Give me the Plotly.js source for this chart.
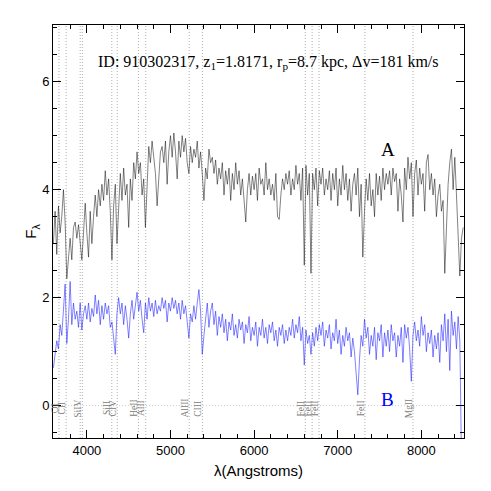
<!DOCTYPE html>
<html>
<head>
<meta charset="utf-8">
<script src="https://cdn.plot.ly/plotly-3.0.1.min.js"></script>
<style>html,body{margin:0;padding:0;background:#fff;}#chart{width:491px;height:491px;}</style>
</head>
<body>
<div id="chart"></div>
<script>
// Spectrum sampling: wavelengths from 3600 to 8500 Angstroms every 20 Angstroms
const lambdaStart = 3600;
const lambdaStep = 20;

// Spectrum A (upper, black)
const fluxA = [
  3.0, 3.6, 2.8, 3.7, 3.2,
  3.5, 4.0, 3.4, 2.35, 2.8,
  3.1, 2.7, 3.3, 3.4, 3.1,
  3.35, 3.0, 2.7, 3.2, 3.75,
  3.2, 2.75, 3.6, 3.0, 3.5,
  3.9, 3.5, 4.0, 3.7, 4.1,
  3.8, 4.35, 3.9, 4.2, 3.6,
  2.7, 3.7, 4.1, 3.0, 3.8,
  4.3, 3.8, 4.4, 3.9, 4.1,
  3.3, 4.2, 3.8, 4.5, 4.2,
  4.7, 4.3, 4.5, 3.9, 4.2,
  3.3, 4.0, 4.8, 4.5, 4.9,
  4.6, 4.3, 3.7, 4.2, 4.7,
  4.8, 4.5, 4.9, 4.1, 4.7,
  5.0, 4.6, 5.05, 4.7, 4.2,
  4.9, 4.6, 5.0, 4.7, 4.95,
  4.5, 4.3, 4.8, 4.5, 4.75,
  4.6, 4.9, 4.4, 4.7, 4.3,
  3.8, 4.4, 4.2, 4.75, 4.5,
  4.6, 4.3, 4.55, 4.1, 4.4,
  4.2, 4.5, 3.9, 4.35, 4.1,
  4.4, 3.8, 4.3, 4.0, 4.5,
  4.1, 4.35, 3.9, 4.2, 3.7,
  3.4, 4.0, 4.3, 3.9, 4.25,
  4.0, 4.3, 3.8, 4.4, 4.1,
  4.2, 3.9, 4.5, 4.0, 4.2,
  3.9, 4.1, 3.8, 4.3, 3.5,
  3.45, 3.9, 4.2, 4.0, 4.3,
  4.1, 4.35, 3.9, 4.2, 4.0,
  4.45, 4.1, 4.3, 3.8, 4.4,
  2.6, 4.45, 3.9, 4.3, 2.45,
  4.3, 4.0, 4.4, 3.7, 4.35,
  4.1, 4.4, 3.9, 4.2, 4.0,
  4.35, 3.8, 4.3, 4.0, 4.4,
  3.7, 4.2, 3.9, 4.45, 4.0,
  4.3, 3.8, 4.2, 3.6, 4.1,
  4.3, 3.9, 4.4, 3.5, 4.1,
  2.75, 3.6, 4.2, 3.8, 4.3,
  3.7, 4.0, 3.5, 4.3, 3.9,
  4.25, 3.8, 4.4, 4.0, 4.3,
  4.1, 4.35, 3.9, 4.4, 4.15,
  4.3, 3.6, 4.2, 3.9, 3.4,
  4.4, 4.0, 4.6, 4.2, 4.5,
  3.5, 4.3, 4.55, 3.9, 4.4,
  4.1, 4.3, 3.6, 4.5, 4.65,
  4.0, 4.3, 3.9, 4.2, 3.5,
  3.9, 4.1, 3.6, 3.8, 2.45,
  3.4, 4.1, 4.5, 4.75, 4.0,
  4.6, 3.9, 3.0, 2.4, 3.1,
  3.3
];

// Spectrum B (lower, blue)
const fluxB = [
  0.7, 1.0, 1.2, 1.05, 1.5,
  1.3, 1.8, 2.25, 1.15, 1.6,
  2.3, 1.5, 1.9, 1.6, 1.75,
  1.45, 1.9, 1.4, 1.7, 1.85,
  1.6, 1.9, 1.55, 1.8, 1.65,
  2.05, 1.7, 1.95, 1.5, 1.85,
  1.6, 1.9, 1.7, 1.85, 1.45,
  1.55, 1.25, 0.95, 1.7, 2.0,
  1.7, 1.9, 1.5, 1.85, 1.6,
  1.25, 1.7, 1.95, 1.6, 1.85,
  2.1, 1.75, 1.95, 1.6, 1.35,
  1.9, 1.6, 2.0, 1.75, 1.9,
  1.65, 1.95, 1.7, 1.85, 1.75,
  2.0, 1.8, 1.95, 1.55, 1.9,
  1.75, 2.0, 1.8, 1.95, 1.7,
  1.9, 1.6, 1.95, 1.7, 1.85,
  1.5, 1.25, 1.7, 1.55, 1.85,
  1.6, 1.9, 2.15, 1.75, 0.95,
  1.3, 1.65, 1.9, 1.45, 1.75,
  1.9, 1.5, 1.75, 1.3, 1.65,
  1.45, 1.7, 1.35, 1.6, 1.2,
  1.55, 1.4, 1.7, 1.3, 1.5,
  1.25, 1.6, 1.4, 1.55, 1.15,
  1.5, 1.35, 1.65, 1.2, 1.45,
  1.3, 1.55, 1.1, 1.45, 1.3,
  1.6, 1.25, 1.45, 1.15, 1.5,
  1.35, 1.55, 1.2, 1.4, 1.1,
  1.45, 1.3, 1.5, 1.15, 1.4,
  1.2, 1.45, 1.3, 1.6, 1.25,
  1.5, 1.35, 1.65, 1.2, 1.45,
  0.75, 1.4, 1.15, 1.3, 0.95,
  1.35, 1.1, 1.45, 1.2, 1.5,
  1.3, 1.55, 1.1, 1.4, 1.25,
  1.5, 1.05, 1.35, 1.2, 1.6,
  1.15, 1.4, 0.95, 1.3, 1.1,
  1.45, 1.2, 1.35, 0.9, 1.25,
  1.0, 0.6, 0.2, 0.85, 1.3,
  1.1, 1.6, 1.25, 1.45, 0.95,
  1.3, 1.1, 1.45, 0.85, 1.35,
  1.2, 1.5, 0.9, 1.35, 1.1,
  1.4, 1.0, 1.5, 1.2, 1.35,
  0.9, 1.3, 1.1, 1.45, 0.8,
  1.5, 1.25, 1.45, 1.05, 0.45,
  1.3, 1.55, 1.2, 1.4, 1.1,
  1.65, 1.3, 1.5, 1.0, 1.35,
  1.15, 1.4, 0.9, 1.3, 1.05,
  1.35, 0.8, 1.5, 1.2, 1.7,
  1.0, 1.6, 0.65, 1.75, 1.3,
  1.55, 1.05, 1.65, 1.2, -1.0,
  -1.0
];

// Absorption line wavelengths (observed frame) and labels
const lineWaves = [3666, 3752, 3920, 3946, 4298, 4363, 4617, 4704, 5224, 5382, 6612, 6694, 6776, 7325, 7900];
const lineLabels = ["OI", "CII", "", "SiIV", "SiII", "CIV", "HeII", "AlII", "AlIII", "CIII", "FeII", "FeII", "FeII", "FeII", "MgII"];

const infoText = "ID: 910302317, z<sub>1</sub>=1.8171, r<sub>p</sub>=8.7 kpc, \u0394v=181 km/s";

const lambda = fluxA.map((_, i) => lambdaStart + i * lambdaStep);

const traces = [
  {x: lambda, y: fluxA, type: 'scatter', mode: 'lines',
   line: {color: 'rgba(0,0,0,0.62)', width: 0.8}, hoverinfo: 'skip'},
  {x: lambda, y: fluxB, type: 'scatter', mode: 'lines',
   line: {color: 'rgba(30,30,255,0.7)', width: 0.8}, hoverinfo: 'skip'}
];

const shapes = lineWaves.map(w => ({
  type: 'line', xref: 'x', yref: 'paper', x0: w, x1: w, y0: 0, y1: 1,
  line: {color: '#9a9a9a', width: 0.8, dash: '1px,2px'}, layer: 'below'
}));
shapes.push({type: 'line', xref: 'paper', yref: 'y', x0: 0, x1: 1, y0: 0, y1: 0,
  line: {color: '#c0c0c0', width: 0.8, dash: '1px,2px'}, layer: 'below'});

const annotations = [];
lineWaves.forEach((w, i) => {
  if (!lineLabels[i]) return;
  annotations.push({x: w, y: -0.05, xref: 'x', yref: 'y', text: lineLabels[i],
    showarrow: false, textangle: -90, xshift: -4, xanchor: 'center', yanchor: 'middle',
    font: {family: 'Liberation Serif', size: 9.5, color: '#808080'}});
});
annotations.push({x: 0.525, y: 0.908, xref: 'paper', yref: 'paper', text: infoText,
  showarrow: false, xanchor: 'center', yanchor: 'middle',
  font: {family: 'Liberation Serif', size: 16, color: '#000'}});
annotations.push({x: 7600, y: 4.74, xref: 'x', yref: 'y', text: 'A', showarrow: false,
  xanchor: 'center', yanchor: 'middle', font: {family: 'Liberation Serif', size: 19, color: '#000'}});
annotations.push({x: 7600, y: 0.11, xref: 'x', yref: 'y', text: 'B', showarrow: false,
  xanchor: 'center', yanchor: 'middle', font: {family: 'Liberation Serif', size: 19, color: '#0000ff'}});

const layout = {
  width: 491, height: 491,
  margin: {l: 53, r: 27, t: 25, b: 53},
  paper_bgcolor: '#fff', plot_bgcolor: '#fff',
  showlegend: false,
  font: {family: 'Liberation Sans', size: 13, color: '#000'},
  xaxis: {
    range: [3595, 8510], showgrid: false, zeroline: false,
    showline: true, linecolor: '#000', linewidth: 1, mirror: 'ticks',
    ticks: 'inside', ticklen: 8, tickwidth: 1, tickcolor: '#000', dtick: 1000, tick0: 0,
    minor: {ticks: 'inside', ticklen: 4, dtick: 200, tick0: 0, tickcolor: '#000', showgrid: false},
    tickfont: {family: 'Liberation Sans', size: 13},
    title: {text: '\u03bb(Angstroms)', font: {family: 'Liberation Sans', size: 15}, standoff: 8}
  },
  yaxis: {
    range: [-0.6, 7.05], showgrid: false, zeroline: false,
    showline: true, linecolor: '#000', linewidth: 1, mirror: 'ticks',
    ticks: 'inside', ticklen: 8, tickwidth: 1, tickcolor: '#000', dtick: 2, tick0: 0,
    minor: {ticks: 'inside', ticklen: 4, dtick: 0.5, tick0: 0, tickcolor: '#000', showgrid: false},
    tickfont: {family: 'Liberation Sans', size: 13},
    title: {text: 'F<sub>\u03bb</sub>', font: {family: 'Liberation Sans', size: 15}, standoff: 1}
  },
  shapes: shapes,
  annotations: annotations
};

Plotly.newPlot('chart', traces, layout, {displayModeBar: false, staticPlot: true});
</script>
</body>
</html>
